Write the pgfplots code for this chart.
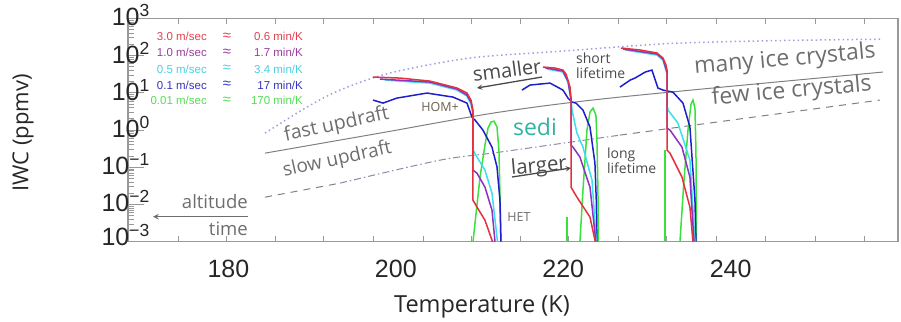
\documentclass[border=0pt]{standalone}
\usepackage{fontspec}
\setmainfont{Open Sans}
\newfontfamily\lib{Liberation Sans}
\usepackage{pgfplots}
\pgfplotsset{compat=1.18}
\definecolor{cred}{HTML}{E3323E}
\definecolor{cpur}{HTML}{8E30C0}
\definecolor{ccya}{HTML}{3EDDEE}
\definecolor{cblu}{HTML}{1E1ECC}
\definecolor{cgre}{HTML}{3CE03C}
\definecolor{lred}{HTML}{E2404E}
\definecolor{lpur}{HTML}{9A3C9E}
\definecolor{lcya}{HTML}{4CCFE0}
\definecolor{lblu}{HTML}{3434C0}
\definecolor{lgre}{HTML}{55DD55}
\definecolor{sedic}{HTML}{33B3A3}
\definecolor{annot}{HTML}{6E6E6E}
\definecolor{dark}{HTML}{4A4A4A}
\definecolor{dotc}{HTML}{A0A0E0}
\definecolor{ddc}{HTML}{8A8AA8}
\definecolor{homc}{HTML}{6A6050}
\begin{document}
\begin{tikzpicture}
\begin{axis}[
  at={(0pt,0pt)}, anchor=south west,
  scale only axis, width=770pt, height=223.4pt,
  xmin=168, xmax=260, ymode=log, ymin=1e-3, ymax=1e3,
  clip mode=individual,
  axis line style={draw=black!40, line width=1.2pt},
  xtick={180,200,220,240},
  xticklabels={180,200,220,240},
  minor xtick={174.0,179.8,185.56,191.4,197.3,203.3,209.06,214.83,220.57,226.54,232.36,238.33,244.2,250.08,255.97},
  every major x tick/.append style={draw=none},
  ytick={1e-3,1e-2,1e-1,1,10,100,1000},
  yticklabels={\raisebox{8pt}{10\textsuperscript{−3}},10\textsuperscript{−2},10\textsuperscript{−1},10\textsuperscript{0},10\textsuperscript{1},10\textsuperscript{2},\raisebox{-4pt}{10\textsuperscript{3}}},
  ytick pos=left,
  major tick length=16pt, minor tick length=6pt,
  tick style={black!40, line width=0.8pt},
  xticklabel style={font=\lib\fontsize{25}{25}\selectfont, text=black!85, inner sep=0pt, yshift=-18pt},
  yticklabel style={font=\lib\fontsize{25}{25}\selectfont, text=black!85, inner sep=0pt, xshift=22pt, yshift=3pt},
]
% background lines
\addplot[color=dotc, line width=1.5pt, dash pattern=on 1.5pt off 3pt, smooth] coordinates {(184.37,0.826) (189.39,4.13) (193.33,11.8) (199.3,33.9) (208.86,85.7) (219.61,130) (232.76,210) (245,250) (258.2,275)};
\addplot[color=black!50, line width=1pt, smooth] coordinates {(184.37,0.239) (198.11,0.826) (212.44,3.03) (226.78,7.66) (258.2,36)};
\addplot[color=black!50, line width=1pt, dash pattern=on 7pt off 6pt] coordinates {(184.37,0.0157) (193.33,0.0374)};
\addplot[color=ddc, line width=1pt, dash pattern=on 7pt off 3pt on 1.5pt off 3pt, smooth] coordinates {(193.33,0.0374) (205.28,0.155) (212.44,0.255) (226.78,0.729)};
\addplot[color=black!50, line width=1pt, dash pattern=on 7pt off 6pt] coordinates {(226.78,0.729) (257.85,6.37)};
% cluster 1
\addplot[cgre, line width=1.5pt] coordinates {(209.22,0.001) (210.06,0.0542) (210.65,0.393) (211.01,1.12) (211.37,1.63) (211.73,1.73) (212.09,1.20) (212.32,0.288) (212.44,0.0201) (212.56,0.001)};
\addplot[cblu, line width=1.5pt] coordinates {(197.27,6.37) (198.47,5.28) (200.14,7.21) (203.72,9.82) (206.83,7.66) (208.5,5.28) (209.1,2.22) (209.46,1.85) (210.41,0.993) (211.49,0.347) (212.09,0.101) (212.44,0.0131) (212.56,0.001)};
\addplot[ccya, line width=1.5pt] coordinates {(198.7,21.9) (204.08,18.2) (207.31,11.8) (208.5,8.15) (208.98,4.97) (209.22,2.67) (209.22,0.288) (209.7,0.187) (210.65,0.0836) (211.49,0.0201) (212.15,0.001)};
\addplot[cpur, line width=1.5pt] coordinates {(198.11,23.3) (204.08,19.4) (207.31,12.6) (208.5,8.67) (208.98,5.62) (209.22,3.03) (209.22,0.0836) (209.7,0.0693) (210.65,0.0292) (211.49,0.00703) (211.85,0.001)};
\addplot[cred, line width=1.5pt] coordinates {(197.27,26.4) (200.5,24.8) (204.08,20.6) (207.31,13.4) (208.5,9.82) (208.98,6.37) (209.22,3.43) (209.22,0.0131) (209.7,0.00845) (210.65,0.00378) (211.49,0.0011) (211.6,0.001)};
% cluster 2
\addplot[cgre, line width=1.5pt] coordinates {(220.45,0.001) (220.45,0.0046)};
\addplot[cgre, line width=1.5pt] coordinates {(222.0,0.001) (222.36,0.0242) (222.84,0.993) (223.2,3.03) (223.56,3.88) (223.91,2.52) (224.03,0.535) (224.15,0.0242) (224.2,0.001)};
\addplot[cblu, line width=1.5pt] coordinates {(215.07,11.8) (216.03,16.1) (218.42,18.2) (219.97,11.8) (220.57,7.21) (221.05,5.62) (221.52,5.28) (222.36,3.43) (223.2,1.20) (223.79,0.129) (223.95,0.0131) (224.03,0.001)};
\addplot[ccya, line width=1.5pt] coordinates {(218.06,43.4) (219.97,36) (220.57,19.4) (220.93,6.37) (221.05,3.43) (221.64,0.826) (222.36,0.347) (223.44,0.045) (223.95,0.001)};
\addplot[cpur, line width=1.5pt] coordinates {(217.82,47) (219.97,38.3) (220.57,20.6) (220.93,6.77) (220.93,0.393) (221.17,0.347) (222.0,0.187) (223.2,0.0292) (223.9,0.001)};
\addplot[cred, line width=1.5pt] coordinates {(217.58,49.1) (219.02,46.1) (219.97,40.7) (220.33,31.8) (220.57,21.9) (220.81,14.2) (220.93,7.66) (220.93,0.0292) (221.64,0.0157) (223.2,0.00456) (223.79,0.0011) (223.85,0.001)};
% cluster 3
\addplot[cgre, line width=1.5pt] coordinates {(232.16,0.001) (232.16,0.288)};
\addplot[cgre, line width=1.5pt] coordinates {(233.95,0.001) (234.43,0.045) (234.91,0.993) (235.27,4.97) (235.5,6.37) (235.74,3.88) (235.86,0.288) (235.92,0.001)};
\addplot[cblu, line width=1.5pt] coordinates {(226.78,14.2) (228.0,21.9) (228.57,24.8) (229.8,36.0) (230.6,40.7) (231.32,13.4) (231.92,11.8) (233.11,10.4) (234.31,5.28) (235.14,1.20) (235.74,0.0131) (235.86,0.001)};
\addplot[ccya, line width=1.5pt] coordinates {(227.38,141) (231.2,103) (231.92,75.7) (232.4,31.8) (232.4,4.67) (232.52,3.43) (233.71,1.53) (235.14,0.155) (235.74,0.001)};
\addplot[cpur, line width=1.5pt] coordinates {(227.14,150) (231.2,110) (231.92,80.5) (232.4,36.0) (232.4,1.12) (232.76,0.993) (234.19,0.347) (235.14,0.0542) (235.62,0.001)};
\addplot[cred, line width=1.5pt] coordinates {(226.9,159) (229.17,141) (231.2,117) (231.92,85.7) (232.28,55.6) (232.4,40.7) (232.4,0.288) (232.76,0.239) (234.19,0.0542) (235.14,0.00845) (235.5,0.001)};
% legend text
\begin{scope}[every node/.style={font=\lib\fontsize{11.5}{12}\selectfont, inner sep=0pt}]
\node[anchor=east, text=lred] at (rel axis cs:0.1026,0.9177) {3.0 m/sec};
\node[text=lred, scale=1.3] at (rel axis cs:0.1286,0.9177) {≈};
\node[anchor=east, text=lred] at (rel axis cs:0.2273,0.9177) {0.6 min/K};
\node[anchor=east, text=lpur] at (rel axis cs:0.1026,0.846) {1.0 m/sec};
\node[text=lpur, scale=1.3] at (rel axis cs:0.1286,0.846) {≈};
\node[anchor=east, text=lpur] at (rel axis cs:0.2273,0.846) {1.7 min/K};
\node[anchor=east, text=lcya] at (rel axis cs:0.1026,0.773) {0.5 m/sec};
\node[text=lcya, scale=1.3] at (rel axis cs:0.1286,0.773) {≈};
\node[anchor=east, text=lcya] at (rel axis cs:0.2273,0.773) {3.4 min/K};
\node[anchor=east, text=lblu] at (rel axis cs:0.1026,0.7014) {0.1 m/sec};
\node[text=lblu, scale=1.3] at (rel axis cs:0.1286,0.7014) {≈};
\node[anchor=east, text=lblu] at (rel axis cs:0.2273,0.7014) {17 min/K};
\node[anchor=east, text=lgre] at (rel axis cs:0.1026,0.6312) {0.01 m/sec};
\node[text=lgre, scale=1.3] at (rel axis cs:0.1286,0.6312) {≈};
\node[anchor=east, text=lgre] at (rel axis cs:0.2273,0.6312) {170 min/K};
\end{scope}
% annotations
\node[text=annot, font=\fontsize{23}{24}\selectfont, rotate=5, inner sep=0pt] at (rel axis cs:0.8532,0.8133) {many ice crystals};
\node[text=annot, font=\fontsize{23}{24}\selectfont, rotate=5, inner sep=0pt] at (rel axis cs:0.862,0.6714) {few ice crystals};
\node[text=annot, font=\fontsize{19.5}{20}\selectfont, rotate=12, inner sep=0pt] at (rel axis cs:0.271,0.5224) {fast updraft};
\node[text=annot, font=\fontsize{19}{20}\selectfont, rotate=12.5, inner sep=0pt] at (rel axis cs:0.2718,0.3657) {slow updraft};
\node[text=dark, font=\fontsize{20}{21}\selectfont, rotate=7.5, inner sep=0pt] at (rel axis cs:0.4922,0.7686) {smaller};
\draw[dark, line width=1.3pt, -stealth] (rel axis cs:0.5377,0.7372) -- (rel axis cs:0.4533,0.6880);
\node[text=dark, font=\fontsize{14}{15}\selectfont, align=left, anchor=west, inner sep=0pt] at (rel axis cs:0.5818,0.7865) {short\\lifetime};
\node[text=dark, font=\fontsize{14}{15}\selectfont, align=left, anchor=west, inner sep=0pt] at (rel axis cs:0.622,0.3612) {long\\lifetime};
\node[text=sedic, font=\fontsize{23}{24}\selectfont, inner sep=0pt] at (rel axis cs:0.5286,0.5134) {sedi};
\node[text=dark, font=\fontsize{20.5}{21}\selectfont, rotate=5, inner sep=0pt] at (rel axis cs:0.5338,0.3344) {larger};
\draw[dark, line width=1.3pt, -stealth] (rel axis cs:0.4987,0.2896) -- (rel axis cs:0.5753,0.3299);
\node[text=homc, font=\fontsize{12.5}{13}\selectfont, inner sep=0pt] at (rel axis cs:0.4052,0.6007) {HOM+};
\node[text=annot, font=\fontsize{12.5}{13}\selectfont, inner sep=0pt] at (rel axis cs:0.5078,0.1083) {HET};
\node[text=annot, font=\fontsize{18.5}{19}\selectfont, anchor=east, inner sep=0pt] at (rel axis cs:0.1558,0.18) {altitude};
\node[text=annot, font=\fontsize{18.5}{19}\selectfont, anchor=east, inner sep=0pt] at (rel axis cs:0.1558,0.0568) {time};
\draw[annot, line width=1.5pt, -stealth] (rel axis cs:0.1558,0.1119) -- (rel axis cs:0.0325,0.1119);
% axis labels
\node[font=\fontsize{23.5}{24}\selectfont, text=black!85] at (rel axis cs:0.4597,-0.2923) {Temperature (K)};
\node[font=\fontsize{22}{23}\selectfont, text=black!85, rotate=90] at (rel axis cs:-0.1364,0.4866) {IWC (ppmv)};
\end{axis}
\path (-128pt,-79.3pt) rectangle (773pt,241.7pt);
\end{tikzpicture}
\end{document}
